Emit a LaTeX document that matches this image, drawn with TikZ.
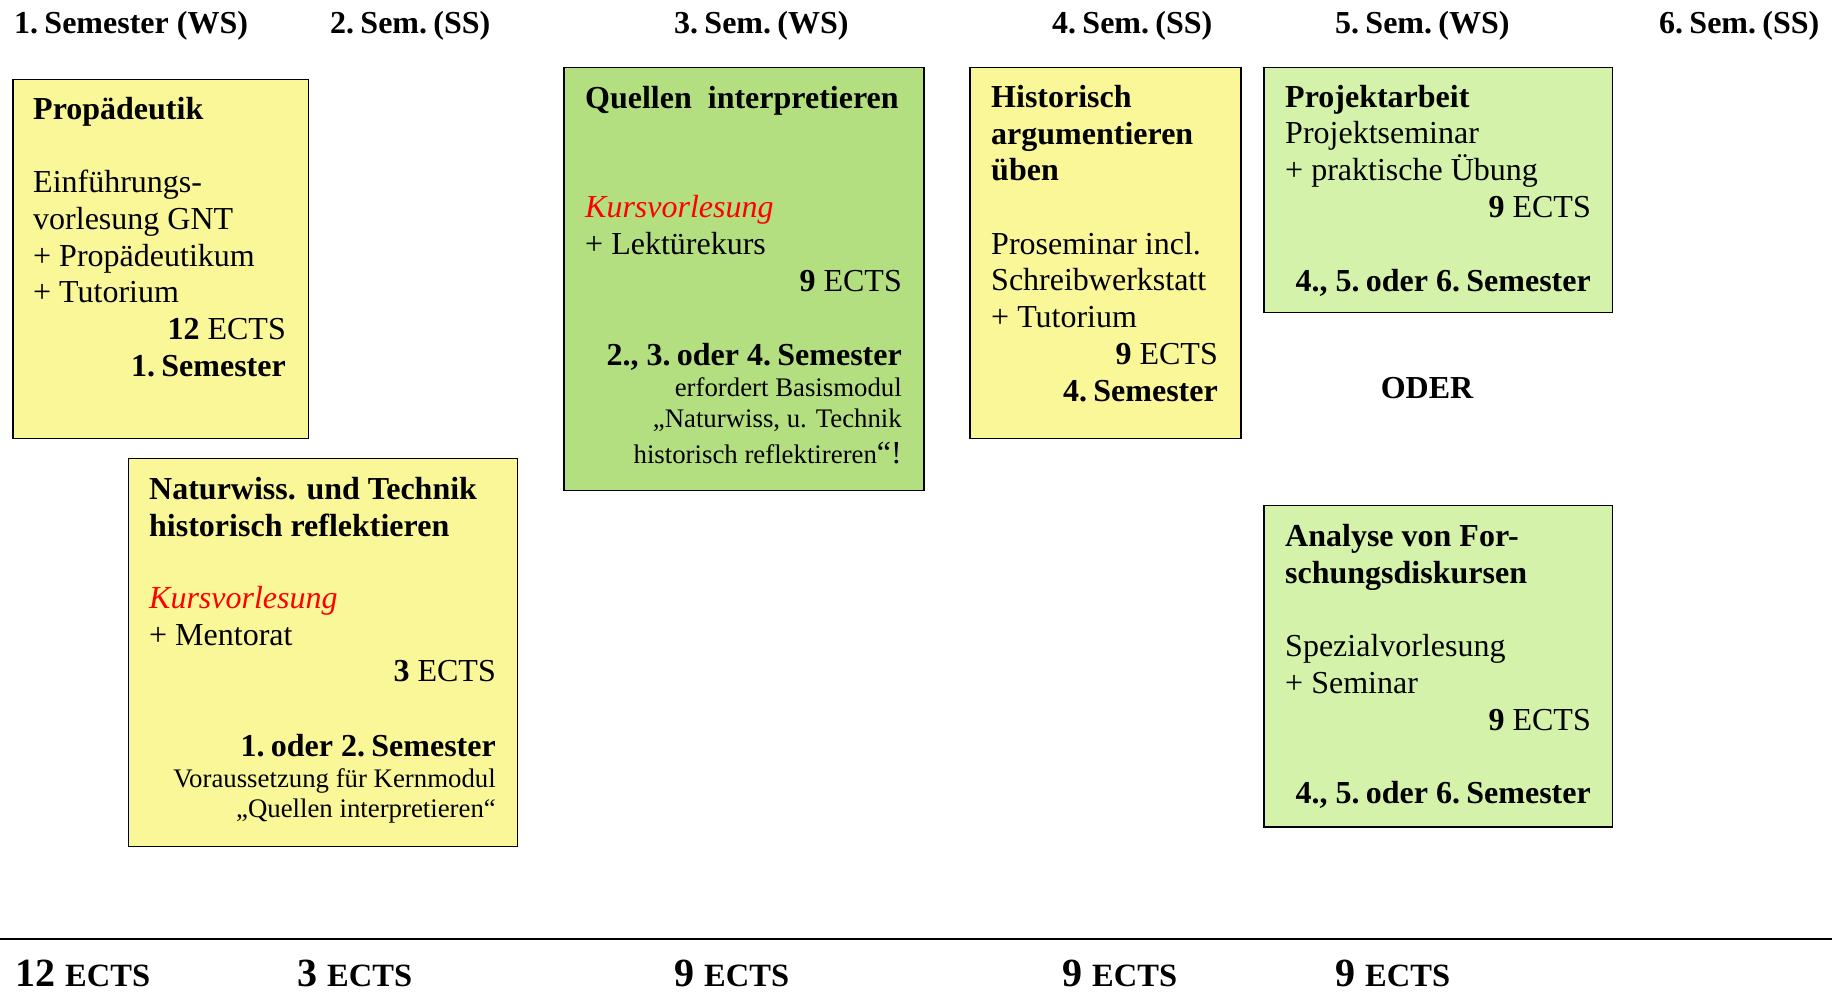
\documentclass[tikz,border=0pt]{standalone}
\usepackage{fontspec}
\setmainfont{Liberation Serif}
\definecolor{yfill}{HTML}{FAF799}
\definecolor{gfill}{HTML}{B4DF80}
\definecolor{lgfill}{HTML}{D4F2AA}
\definecolor{kred}{HTML}{FF0000}
\tikzset{
  modbox/.style={draw=black, line width=1.5pt, anchor=north west, inner sep=0pt, outer sep=0pt},
  tl/.style={anchor=base west, inner sep=0pt, font=\fontsize{32}{37}\selectfont},
  tr/.style={anchor=base east, inner sep=0pt, font=\fontsize{32}{37}\selectfont},
  sr/.style={anchor=base east, inner sep=0pt, font=\fontsize{26.8}{30}\selectfont},
  hd/.style={anchor=base west, inner sep=0pt, font=\fontsize{32}{37}\selectfont\bfseries},
  tot/.style={anchor=base west, inner sep=0pt, font=\fontsize{40}{40}\selectfont\bfseries},
}
\newcommand{\kurs}{\textcolor{kred}{\itshape Kursvorlesung}}
\newcommand{\ects}{{\fontsize{32.5}{32.5}\selectfont ECTS}}
\newcommand{\pd}{.\kern-1.7pt\ }
\begin{document}
\begin{tikzpicture}[x=1pt,y=-1pt]
\useasboundingbox (0,0) rectangle (1832,991);
% headers
\node[hd] (h1) at (14,33) {1\pd Semester (WS)};
\node[hd] (h2) at (330,33) {2\pd Sem\pd (SS)};
\node[hd] (h3) at (674,33) {3\pd Sem\pd (WS)};
\node[hd] (h4) at (1052,33) {4\pd Sem\pd (SS)};
\node[hd] (h5) at (1335,33) {5\pd Sem\pd (WS)};
\node[hd] (h6) at (1659,33) {6\pd Sem\pd (SS)};
% boxes
\node[modbox, fill=yfill, minimum width=295.5pt, minimum height=359pt] (b1) at (12.75,79.5) {};
\node[modbox, fill=yfill, minimum width=389pt, minimum height=388pt] (b2) at (128.5,458.5) {};
\node[modbox, fill=gfill, minimum width=360pt, minimum height=423pt] (b3) at (564,67.5) {};
\node[modbox, fill=yfill, minimum width=271pt, minimum height=371pt] (b4) at (969.75,67.5) {};
\node[modbox, fill=lgfill, minimum width=348.5pt, minimum height=245pt] (b5) at (1264,67.5) {};
\node[modbox, fill=lgfill, minimum width=348.5pt, minimum height=321.5pt] (b6) at (1264,505.5) {};
% Propaedeutik
\node[tl] (b1a) at (33,119) {\bfseries Propädeutik};
\node[tl] (b1b) at (33,192) {Einführungs-};
\node[tl] (b1c) at (33,229) {vorlesung GNT};
\node[tl] (b1d) at (33,266) {+ Propädeutikum};
\node[tl] (b1e) at (33,302) {+ Tutorium};
\node[tr] (b1f) at (286,339) {\textbf{12} ECTS};
\node[tr] (b1g) at (286,376) {\bfseries 1\pd Semester};
% Naturwiss
\node[tl] (b2a) at (149,499) {\bfseries Naturwiss. und Technik};
\node[tl] (b2b) at (149,536) {\bfseries historisch reflektieren};
\node[tl] (b2c) at (149,608) {\kurs};
\node[tl] (b2d) at (149,645) {+ Mentorat};
\node[tr] (b2e) at (496,681) {\textbf{3} ECTS};
\node[tr] (b2f) at (496,756) {\bfseries 1\pd oder 2\pd Semester};
\node[sr] (b2g) at (496,787) {Voraussetzung für Kernmodul};
\node[sr] (b2h) at (496,817) {„Quellen interpretieren“};
% Quellen
\node[tl] (b3a) at (585,108) {\bfseries Quellen\ \ interpretieren};
\node[tl] (b3b) at (585,217) {\kurs};
\node[tl] (b3c) at (585,254) {+ Lektürekurs};
\node[tr] (b3d) at (902,291) {\textbf{9} ECTS};
\node[tr] (b3e) at (902,365) {\bfseries 2., 3\pd oder 4\pd Semester};
\node[sr] (b3f) at (902,396) {erfordert Basismodul};
\node[sr] (b3g) at (902,427) {„Naturwiss, u. Technik};
\node[sr] (b3h) at (902,463) {historisch reflektireren{\fontsize{32}{37}\selectfont “!}};
% Historisch
\node[tl] (b4a) at (991,107) {\bfseries Historisch};
\node[tl] (b4b) at (991,144) {\bfseries argumentieren};
\node[tl] (b4c) at (991,180) {\bfseries üben};
\node[tl] (b4d) at (991,254) {Proseminar incl.};
\node[tl] (b4e) at (991,290) {Schreibwerkstatt};
\node[tl] (b4f) at (991,327) {+ Tutorium};
\node[tr] (b4g) at (1218,364) {\textbf{9} ECTS};
\node[tr] (b4h) at (1218,401) {\bfseries 4\pd Semester};
% Projektarbeit
\node[tl] (b5a) at (1285,107) {\bfseries Projektarbeit};
\node[tl] (b5b) at (1285,143) {Projektseminar};
\node[tl] (b5c) at (1285,180) {+ praktische Übung};
\node[tr] (b5d) at (1591,217) {\textbf{9} ECTS};
\node[tr] (b5e) at (1591,291) {\bfseries 4., 5\pd oder 6\pd Semester};
% ODER
\node[anchor=base, inner sep=0pt, font=\fontsize{32}{37}\selectfont\bfseries] (oder) at (1427,398) {ODER};
% Analyse
\node[tl] (b6a) at (1285,546) {\bfseries Analyse von For-};
\node[tl] (b6b) at (1285,583) {\bfseries schungsdiskursen};
\node[tl] (b6c) at (1285,656) {Spezialvorlesung};
\node[tl] (b6d) at (1285,693) {+ Seminar};
\node[tr] (b6e) at (1591,730) {\textbf{9} ECTS};
\node[tr] (b6f) at (1591,803) {\bfseries 4., 5\pd oder 6\pd Semester};
% bottom line and totals
\coordinate (l0) at (0,939);
\coordinate (l1) at (1832,939);
\draw[line width=2.5pt] (l0) -- (l1);
\node[tot] (t1) at (15,986) {12 \ects};
\node[tot] (t2) at (297,986) {3 \ects};
\node[tot] (t3) at (674,986) {9 \ects};
\node[tot] (t4) at (1062,986) {9 \ects};
\node[tot] (t5) at (1335,986) {9 \ects};
\end{tikzpicture}
\end{document}
